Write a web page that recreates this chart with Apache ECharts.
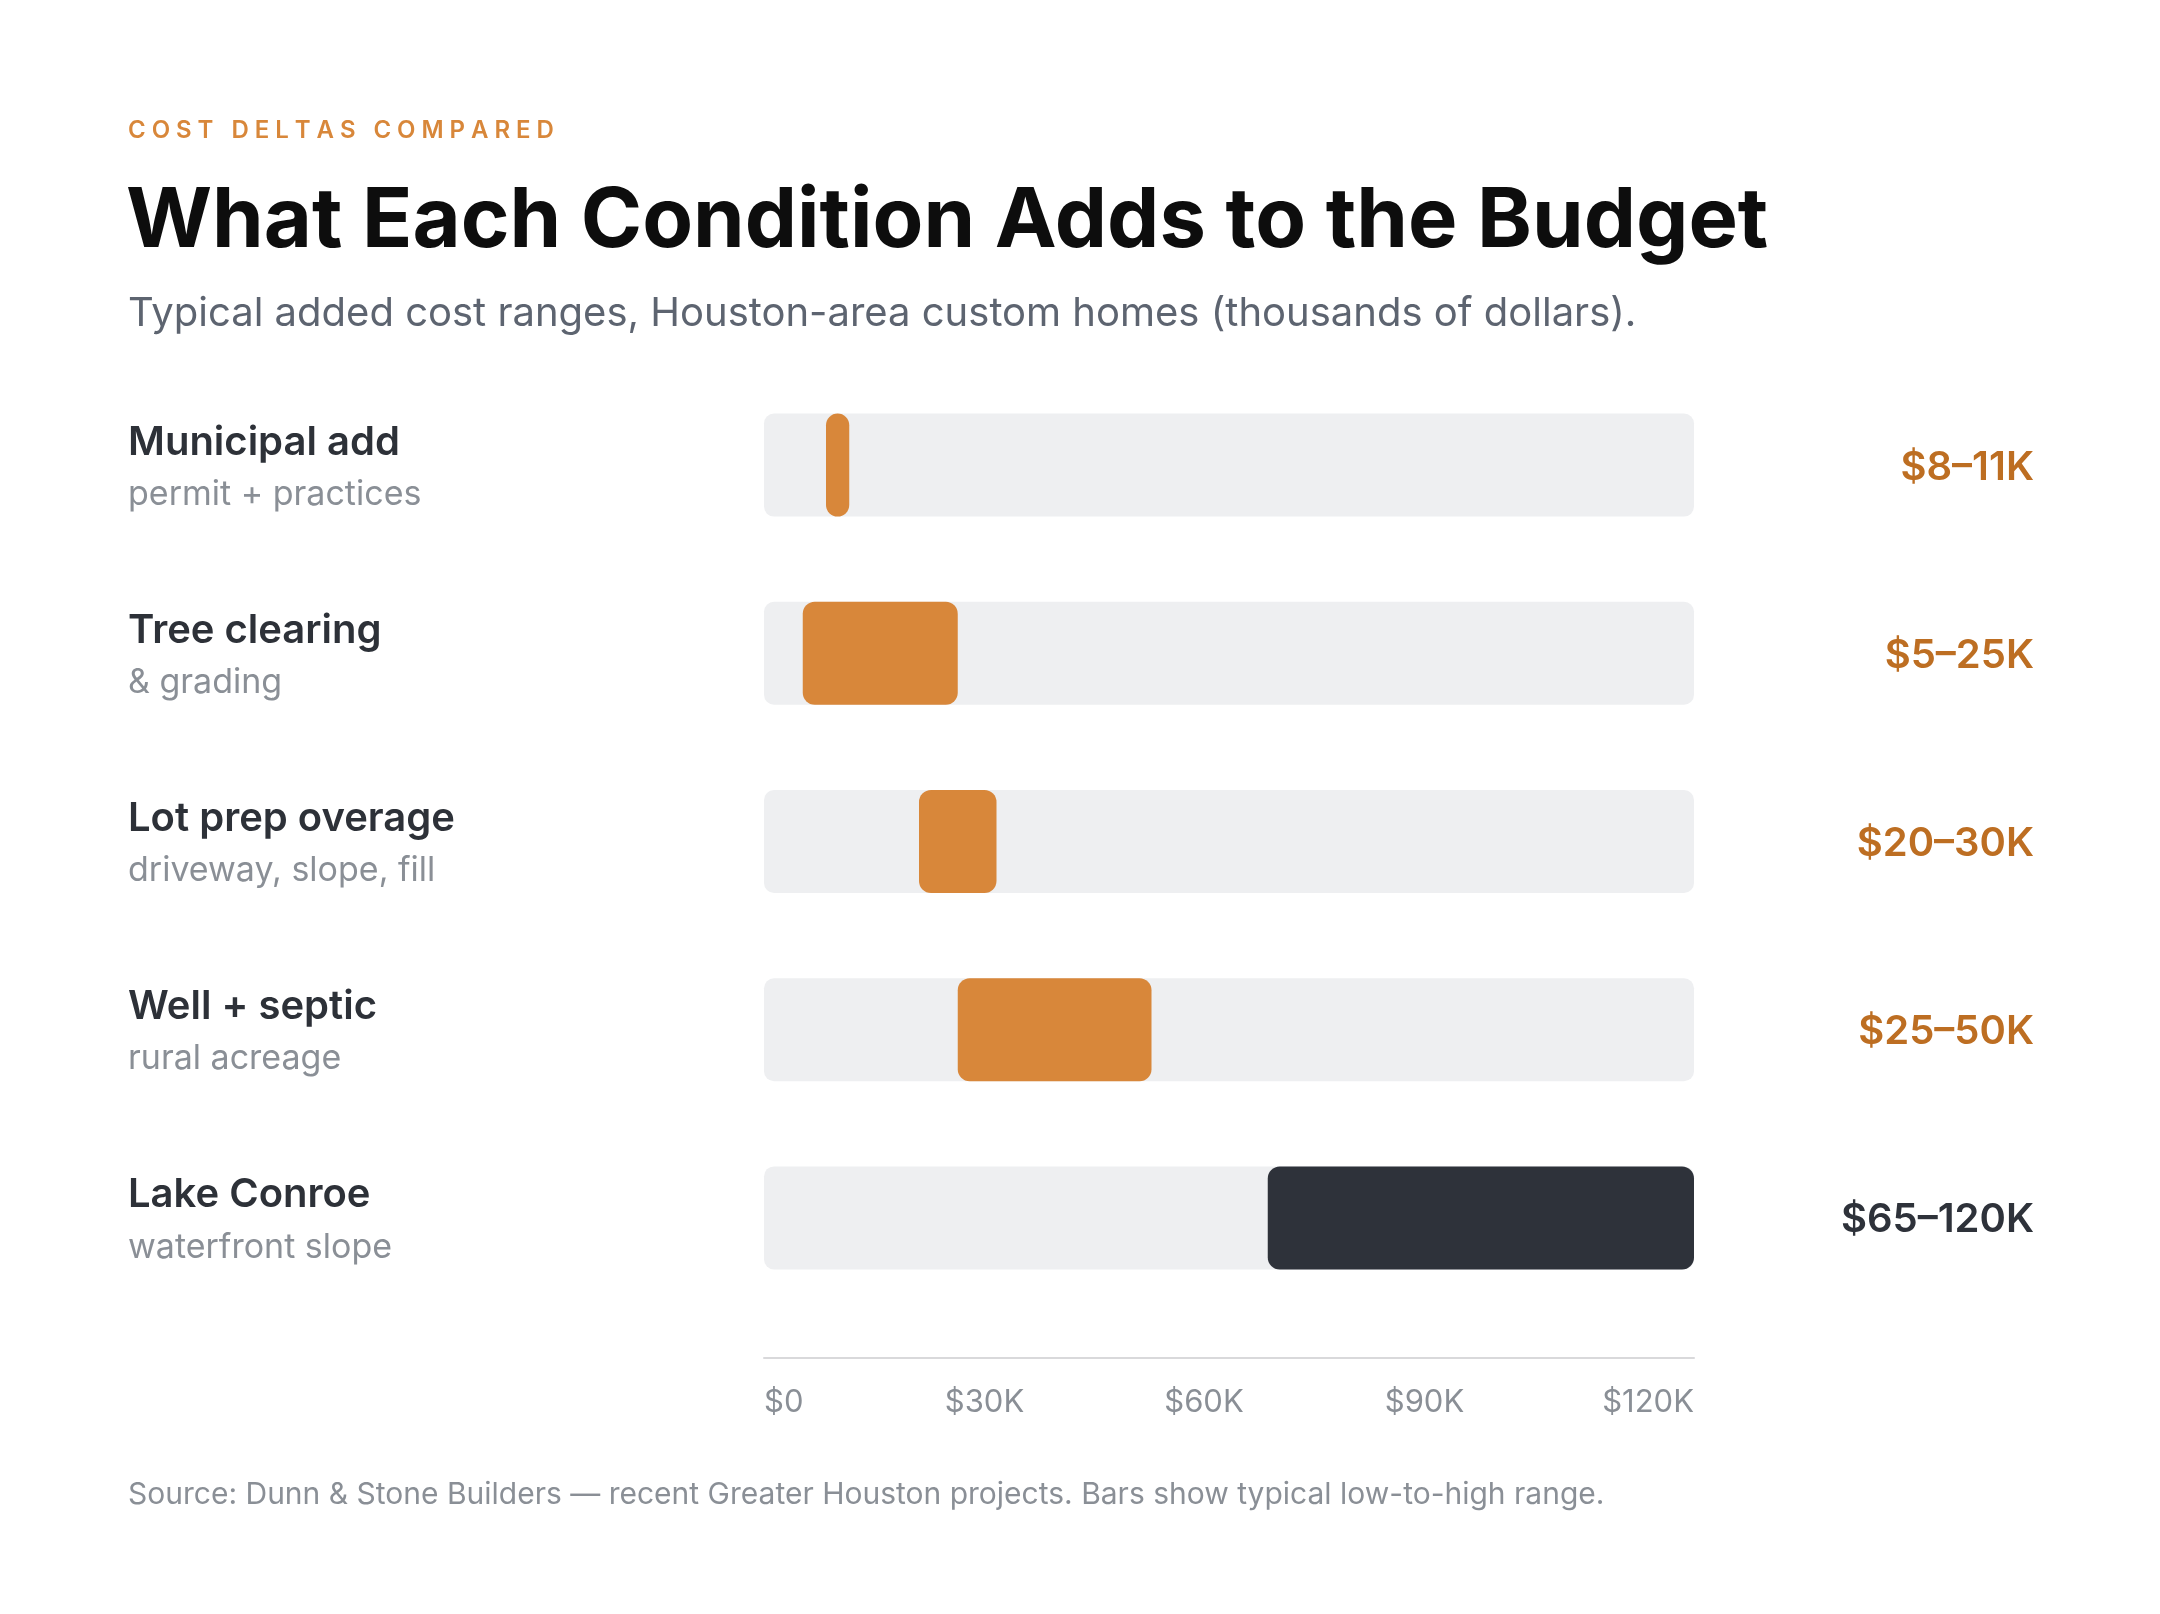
<!DOCTYPE html>
<html>
<head>
<meta charset="utf-8">
<script src="https://cdn.jsdelivr.net/npm/echarts@6/dist/echarts.min.js"></script>
<style>
  html, body { margin: 0; padding: 0; background: #fff; }
  #chart { width: 2160px; height: 1614px; }
</style>
</head>
<body>
<div id="chart"></div>
<script>
// data (thousands of dollars)
const conditions = ['Municipal add', 'Tree clearing', 'Lot prep overage', 'Well + septic', 'Lake Conroe'];
const details = ['permit + practices', '& grading', 'driveway, slope, fill', 'rural acreage', 'waterfront slope'];
const lowK = [8, 5, 20, 25, 65];
const highK = [11, 25, 30, 50, 120];
const highlighted = [false, false, false, false, true];
const tickLabels = ['$0', '$30K', '$60K', '$90K', '$120K'];

const ORANGE = '#d8873a';
const ORANGE_TEXT = '#bd6e22';
const DARK = '#2e323a';
const GREY = '#8a8f96';
const FONT = 'Inter, "Noto Sans", sans-serif';

const chart = echarts.init(document.getElementById('chart'), null, { renderer: 'canvas' });

// spread out tick labels like the original layout (space-between)
const tickShift = ['', 't1', 't2', 't3', ''];

function headerText(x, y, text, font, fill) {
  return { type: 'text', x: x, y: y, style: { text: text, font: font, fill: fill, verticalAlign: 'middle' } };
}

const option = {
  backgroundColor: '#ffffff',
  textStyle: { fontFamily: FONT },
  animation: false,
  graphic: [
    // tracked-out eyebrow: thin + hair space between letters
    headerText(128, 131, 'COST DELTAS COMPARED'.split('').join('\u2009\u200a'), '600 24px ' + FONT, ORANGE),
    headerText(126, 222, 'What Each Condition Adds to the Budget', '700 83px ' + FONT, '#0d0d0d'),
    headerText(128, 314, 'Typical added cost ranges, Houston-area custom homes (thousands of dollars).', '400 40px ' + FONT, '#5d6470'),
    headerText(128, 1495, 'Source: Dunn & Stone Builders \u2014 recent Greater Houston projects. Bars show typical low-to-high range.', '400 30px ' + FONT, GREY)
  ],
  grid: { left: 764, right: 466, top: 371, height: 941, containLabel: false },
  xAxis: {
    type: 'value',
    min: 0,
    max: 120,
    interval: 30,
    offset: 46,
    axisLine: { show: true, lineStyle: { color: '#d9d9db', width: 2 } },
    axisTick: { show: false },
    splitLine: { show: false },
    axisLabel: {
      margin: 29,
      fontSize: 31,
      color: GREY,
      alignMinLabel: 'left',
      alignMaxLabel: 'right',
      formatter: (v) => {
        const i = Math.round(v / 30);
        return tickShift[i] ? '{' + tickShift[i] + '|' + tickLabels[i] + '}' : tickLabels[i];
      },
      rich: {
        t1: { fontSize: 31, color: GREY, fontFamily: FONT, padding: [0, 24, 0, 0] },
        t2: { fontSize: 31, color: GREY, fontFamily: FONT, padding: [0, 50, 0, 0] },
        t3: { fontSize: 31, color: GREY, fontFamily: FONT, padding: [0, 74, 0, 0] }
      }
    }
  },
  yAxis: [
    {
      type: 'category',
      inverse: true,
      data: conditions,
      axisLine: { show: false },
      axisTick: { show: false },
      axisLabel: {
        align: 'left',
        margin: 636,
        padding: [7, 0, 0, 0],
        formatter: (v, i) => '{n|' + v + '}\n{s|' + details[i] + '}',
        rich: {
          n: { fontSize: 40, fontWeight: 600, color: '#2d3138', lineHeight: 52, fontFamily: FONT },
          s: { fontSize: 34, color: GREY, lineHeight: 52, fontFamily: FONT }
        }
      }
    },
    {
      type: 'category',
      inverse: true,
      position: 'right',
      data: conditions,
      axisLine: { show: false },
      axisTick: { show: false },
      axisLabel: {
        align: 'right',
        margin: 340,
        padding: [5, 0, 0, 0],
        formatter: (v, i) => (highlighted[i] ? '{d|' : '{o|') + '$' + lowK[i] + '\u2013' + highK[i] + 'K}',
        rich: {
          o: { fontSize: 40, fontWeight: 600, color: ORANGE_TEXT, fontFamily: FONT },
          d: { fontSize: 40, fontWeight: 600, color: DARK, fontFamily: FONT }
        }
      }
    }
  ],
  series: [
    {
      name: 'base',
      type: 'bar',
      stack: 'range',
      barWidth: 103,
      silent: true,
      data: lowK,
      itemStyle: { color: 'rgba(0,0,0,0)' },
      showBackground: true,
      backgroundStyle: { color: '#eeeff1', borderRadius: 10 }
    },
    {
      name: 'range',
      type: 'bar',
      stack: 'range',
      barWidth: 103,
      data: highK.map((h, i) => ({
        value: h - lowK[i],
        itemStyle: { color: highlighted[i] ? DARK : ORANGE }
      })),
      itemStyle: { borderRadius: 12 }
    }
  ]
};

chart.setOption(option);
</script>
</body>
</html>
